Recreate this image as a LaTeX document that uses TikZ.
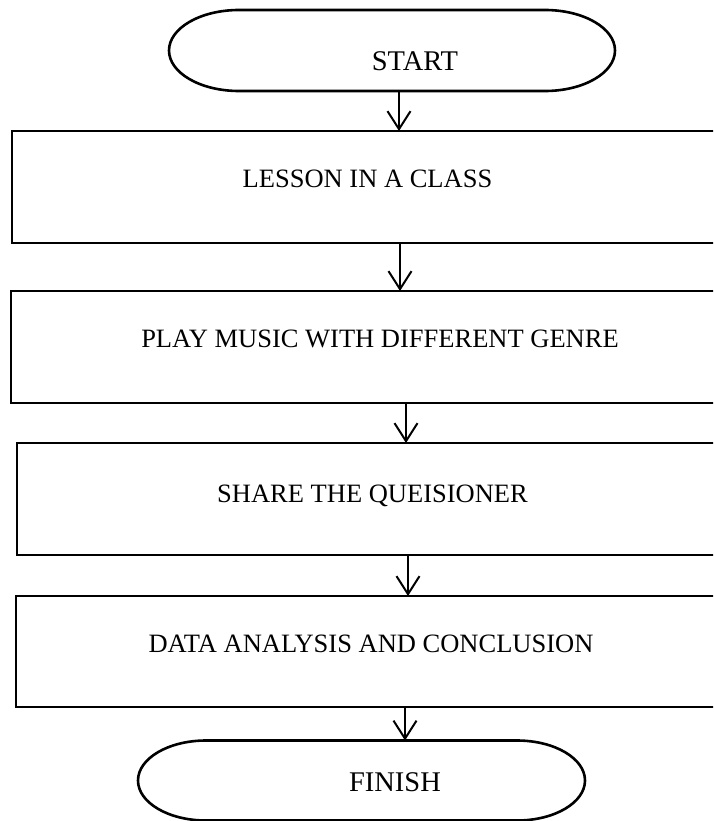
\documentclass[tikz,border=0pt]{standalone}
\usepackage{fontspec}
\setmainfont{Liberation Serif}
\usetikzlibrary{arrows.meta}

\begin{document}
\begin{tikzpicture}[x=1pt, y=-1pt,
    blocco/.style = {draw, line width=2.8pt, inner sep=0pt, outer sep=0pt, anchor=north west},
    terminale/.style = {inner sep=0pt, outer sep=0pt},
    testo/.style = {anchor=base, font=\fontsize{26.5}{30}\selectfont},
    testoT/.style = {anchor=base, font=\fontsize{28.5}{32}\selectfont},
    freccia/.style = {line width=2pt, -{Straight Barb[length=18pt, width=23pt]}}]
    %Parametri
    \pgfmathsetmacro{\spessore}{2.6}
    % Bordo della figura
    \useasboundingbox (0,0) rectangle (713,821);
    \clip (0,0) rectangle (713,821);
    % Terminale START
    \node[terminale, minimum width=306pt, minimum height=81pt] (inizio) at (392,50.5) {};
    \draw[line width=\spessore pt] (inizio.north west) -- (inizio.north east)
        arc[start angle=90, end angle=-90, x radius=70pt, y radius=40.5pt] -- (inizio.south west)
        arc[start angle=270, end angle=90, x radius=70pt, y radius=40.5pt] -- cycle;
    \node[testoT] (tInizio) at (415,71) {START};
    % Blocchi
    \node[blocco, minimum width=718pt, minimum height=112pt] (lezione) at (12,131) {};
    \node[testo] (tLezione) at (367.5,187) {LESSON IN A CLASS};
    \node[blocco, minimum width=719pt, minimum height=112pt] (musica) at (11,291) {};
    \node[testo] (tMusica) at (380,347) {PLAY MUSIC WITH DIFFERENT GENRE};
    \node[blocco, minimum width=713pt, minimum height=112pt] (questionario) at (17,443) {};
    \node[testo] (tQuestionario) at (372.5,502) {SHARE THE QUEISIONER};
    \node[blocco, minimum width=714pt, minimum height=111pt] (analisi) at (16,596) {};
    \node[testo] (tAnalisi) at (371,652) {DATA ANALYSIS AND CONCLUSION};
    % Terminale FINISH
    \node[terminale, minimum width=311pt, minimum height=80pt] (fine) at (361.5,780.5) {};
    \draw[line width=\spessore pt] (fine.north west) -- (fine.north east)
        arc[start angle=90, end angle=-90, x radius=68pt, y radius=40pt] -- (fine.south west)
        arc[start angle=270, end angle=90, x radius=68pt, y radius=40pt] -- cycle;
    \node[testoT] (tFine) at (395,791) {FINISH};
    % Frecce
    \coordinate (f1) at (399,0);
    \coordinate (f2) at (400,0);
    \coordinate (f3) at (406,0);
    \coordinate (f4) at (408,0);
    \coordinate (f5) at (405,0);
    \draw[freccia] (inizio.south -| f1) -- (lezione.north -| f1);
    \draw[freccia] (lezione.south -| f2) -- (musica.north -| f2);
    \draw[freccia] (musica.south -| f3) -- (questionario.north -| f3);
    \draw[freccia] (questionario.south -| f4) -- (analisi.north -| f4);
    \draw[freccia] (analisi.south -| f5) -- (fine.north -| f5);
\end{tikzpicture}
\end{document}
